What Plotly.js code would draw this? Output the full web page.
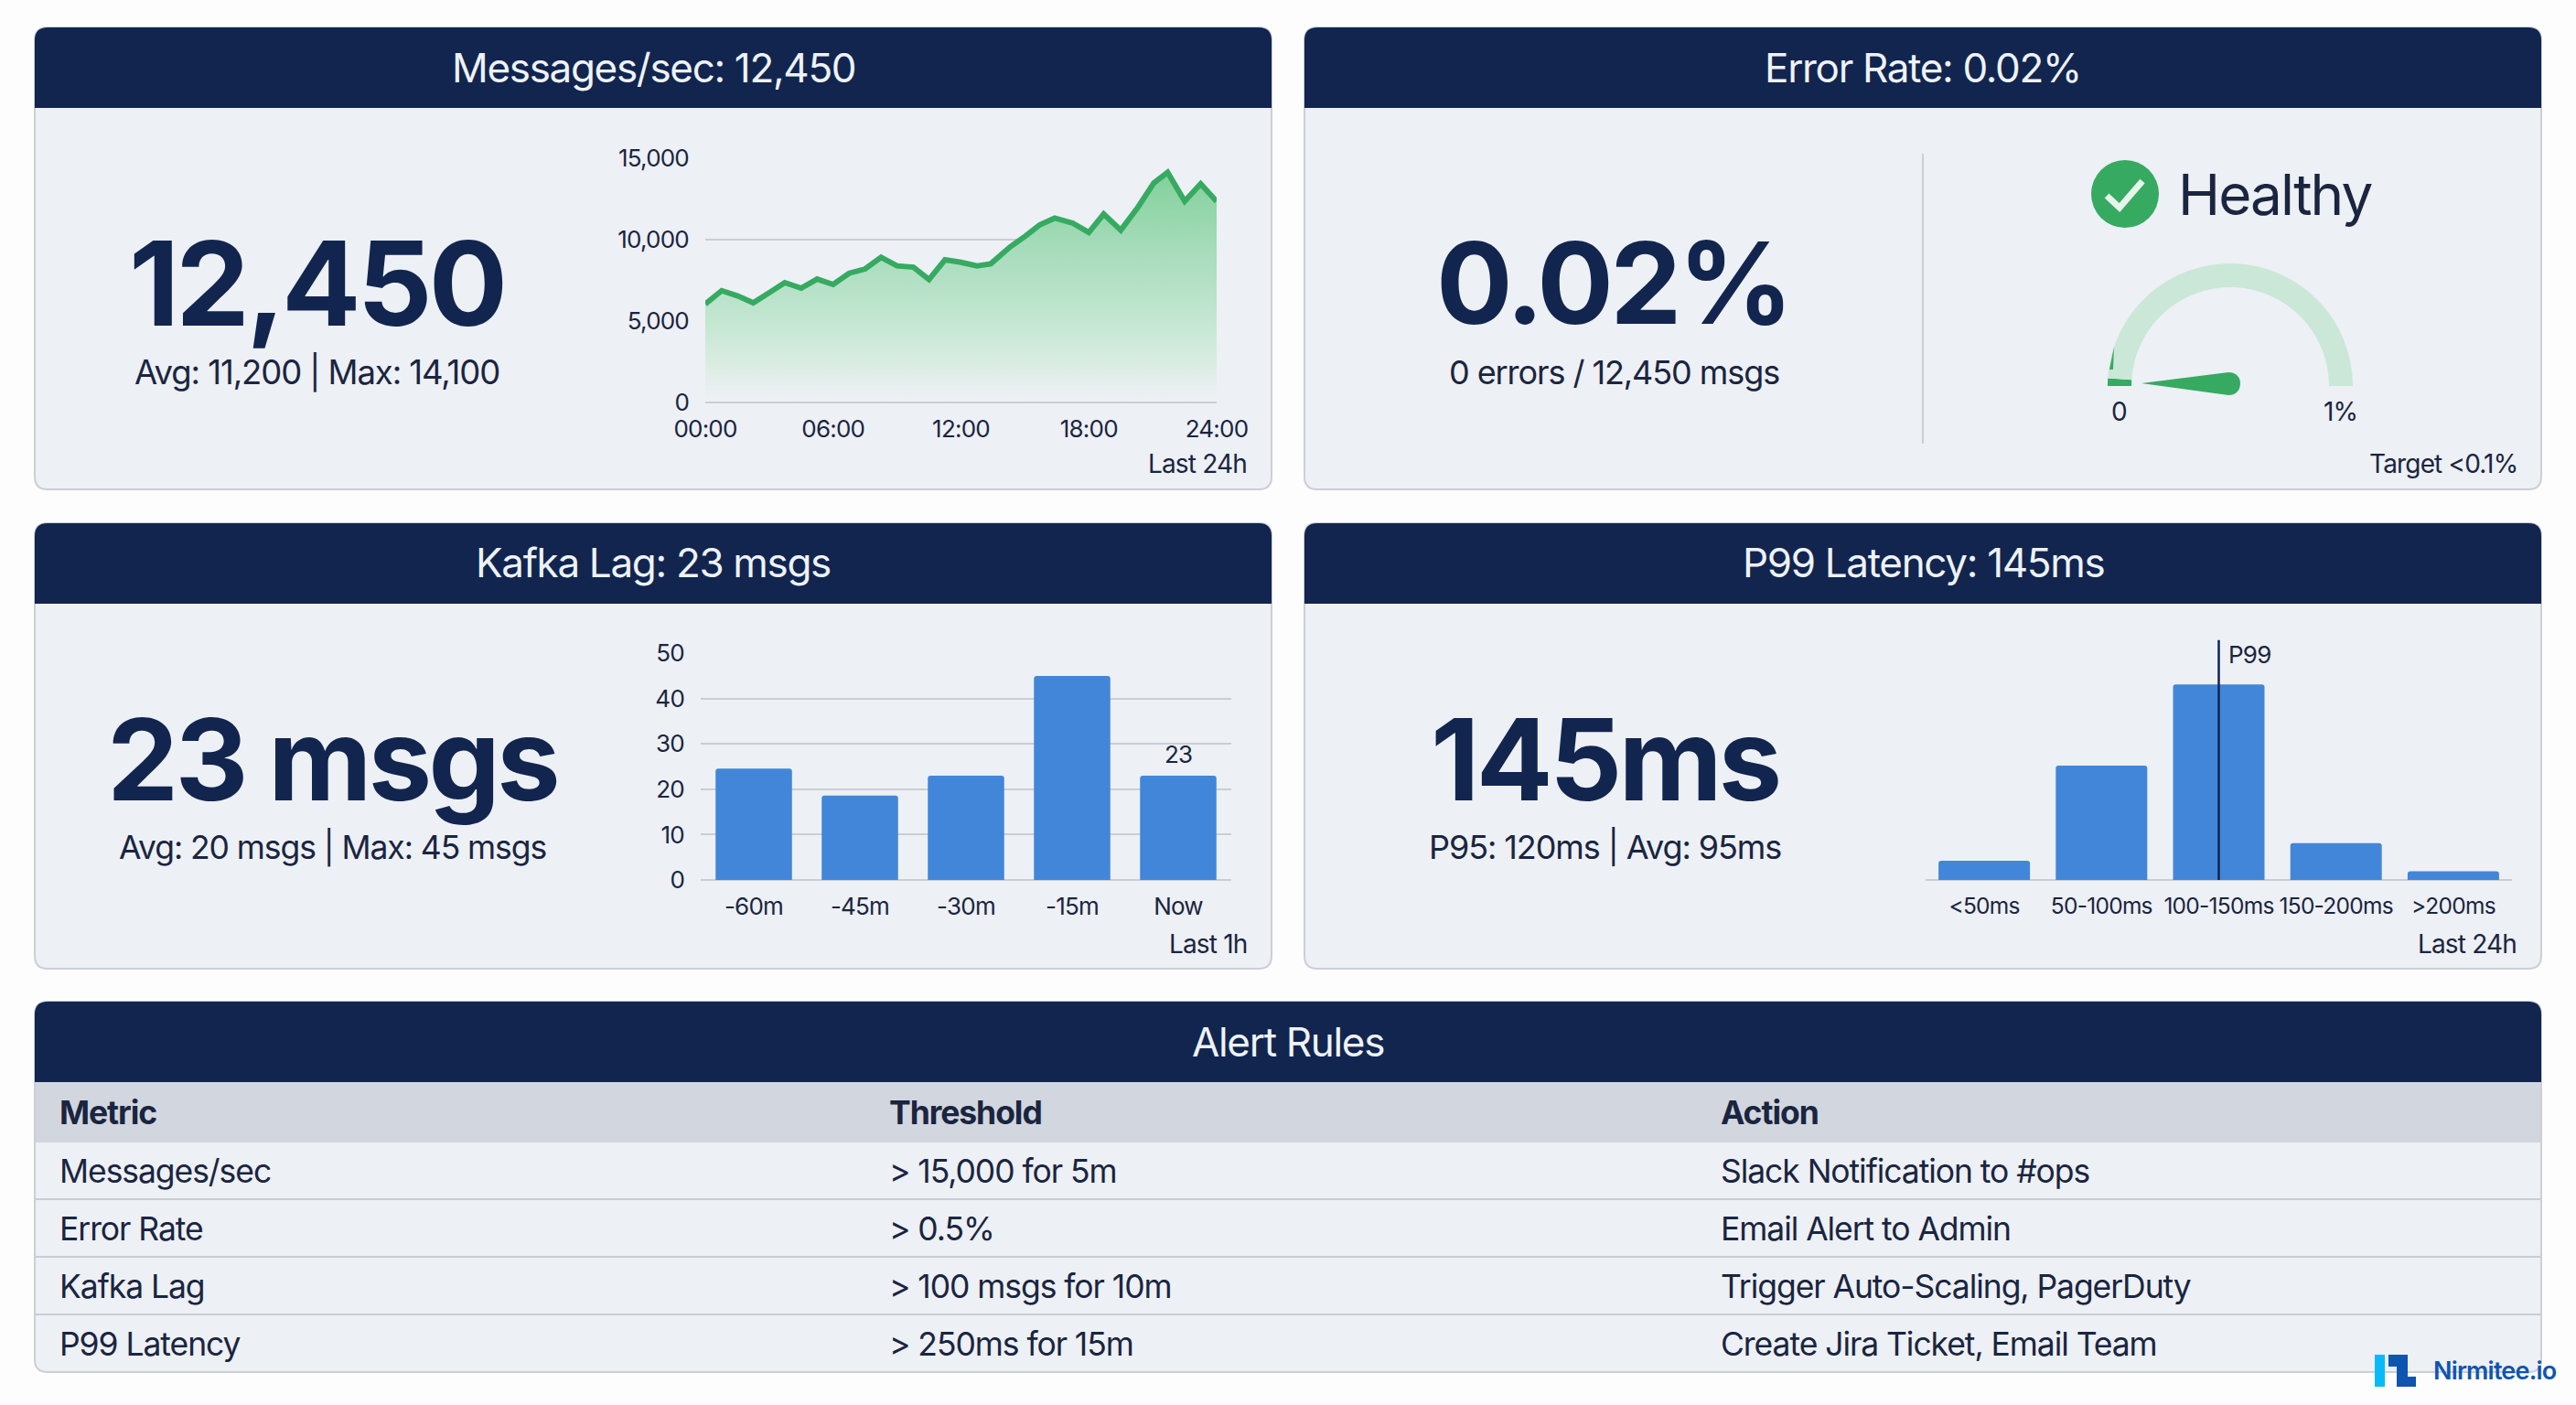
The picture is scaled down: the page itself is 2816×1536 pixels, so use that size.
<!DOCTYPE html>
<html><head><meta charset="utf-8">
<script src="https://cdn.plot.ly/plotly-3.0.1.min.js"></script>
<style>html,body{margin:0;padding:0;background:#fff}#c{width:2816px;height:1536px}svg text{letter-spacing:-0.03em}</style>
</head><body><div id="c"></div><script>
// ---- data ----
const msgHours=[0,0.77,1.5,2.25,3,3.73,4.5,5.25,6,6.75,7.5,8.25,9,9.77,10.5,11.25,12,12.75,13.4,14.3,15.05,15.7,16.4,17.25,18,18.7,19.5,20.3,21.05,21.7,22.5,23.25,24];
const msgValues=[6040,6860,6545,6115,6730,7350,7010,7570,7240,7930,8190,8900,8380,8300,7540,8750,8600,8380,8510,9540,10230,10900,11310,11000,10430,11560,10570,11970,13460,14120,12340,13410,12340];
const msgTickVals=[0,6,12,18,24];
const msgTickText=['00:00','06:00','12:00','18:00','24:00'];
const lagLabels=['-60m','-45m','-30m','-15m','Now'];
const lagValues=[24.6,18.6,23,45,23];
const latLabels=['<50ms','50-100ms','100-150ms','150-200ms','>200ms'];
const latValues=[5.1,30.4,52,9.8,2.3];
const gaugeValue=0.02, gaugeMax=1;
const tableHead=['Metric','Threshold','Action'];
const tableMetric=['Messages/sec','Error Rate','Kafka Lag','P99 Latency'];
const tableThreshold=['> 15,000 for 5m','> 0.5%','> 100 msgs for 10m','> 250ms for 15m'];
const tableAction=['Slack Notification to #ops','Email Alert to Admin','Trigger Auto-Scaling, PagerDuty','Create Jira Ticket, Email Team'];

// ---- helpers ----
const W=2816,H=1536,F='Inter, "Noto Sans", sans-serif';
const NAVY='#11254F',INK='#1A2540',PANEL='#EDF0F5',EDGE='#CBCFD5',GRID='#CACDD3',GREEN='#36AA61',BLUE='#4286D9';
const X=p=>p/W, Y=p=>1-p/H;
const P=(x,y)=>X(x).toFixed(5)+','+Y(y).toFixed(5);
function rpath(x0,y0,x1,y1,rt,rb){
  return 'M'+P(x0+rt,y0)+' L'+P(x1-rt,y0)+' Q'+P(x1,y0)+' '+P(x1,y0+rt)+' L'+P(x1,y1-rb)+' Q'+P(x1,y1)+' '+P(x1-rb,y1)+
   ' L'+P(x0+rb,y1)+' Q'+P(x0,y1)+' '+P(x0,y1-rb)+' L'+P(x0,y0+rt)+' Q'+P(x0,y0)+' '+P(x0+rt,y0)+' Z';
}
const shapes=[];
const pshape=(path,fill,line,lw,layer)=>shapes.push({type:'path',xref:'paper',yref:'paper',path,fillcolor:fill,line:{color:line||'rgba(0,0,0,0)',width:lw||0},layer:layer||'below'});
const rect=(x0,y0,x1,y1,fill)=>shapes.push({type:'rect',xref:'paper',yref:'paper',x0:X(x0),x1:X(x1),y0:Y(y0),y1:Y(y1),fillcolor:fill,line:{width:0},layer:'below'});
const hline=(x0,x1,y,c,w)=>shapes.push({type:'line',xref:'paper',yref:'paper',x0:X(x0),x1:X(x1),y0:Y(y),y1:Y(y),line:{color:c,width:w},layer:'below'});
const anns=[];
const txt=(text,x,y,size,o)=>anns.push(Object.assign({text,x:X(x),y:Y(y),xref:'paper',yref:'paper',showarrow:false,xanchor:'center',yanchor:'middle',borderpad:0,font:{family:F,size,color:INK}},o||{}));
const big=(t,x,y,s)=>txt(t,x,y,s,{font:{family:F,size:s,color:NAVY,weight:700}});
const rtxt=(t,x,y,s)=>txt(t,x,y,s,{xanchor:'right'});

function panel(x0,y0,x1,y1,title){
  pshape(rpath(x0,y0,x1,y1,14,14),PANEL,EDGE,2);
  pshape(rpath(x0,y0,x1,y0+88,14,0),NAVY);
  txt(title,(x0+x1)/2,y0+43.5,44,{font:{family:F,size:44,color:'#EEF2F7'}});
}
panel(38,30,1390,535,'Messages/sec: 12,450');
panel(1426,30,2778,535,'Error Rate: 0.02%');
panel(38,572,1390,1059,'Kafka Lag: 23 msgs');
panel(1426,572,2778,1059,'P99 Latency: 145ms');
panel(38,1095,2778,1500,'Alert Rules');

// table
rect(39,1183,2777,1249,'#D2D6DE');
[1311,1374,1437].forEach(y=>hline(39,2777,y,'#C9CDD3',2));
const colX=[64,971,1880], rowY=[1280,1343,1406,1469], TS=35.5;
tableHead.forEach((t,i)=>txt(t,colX[i],1216,TS,{xanchor:'left',font:{family:F,size:TS,color:INK,weight:700}}));
[tableMetric,tableThreshold,tableAction].forEach((col,i)=>col.forEach((t,j)=>txt(t.replace('>','&gt;'),colX[i],rowY[j],TS,{xanchor:'left'})));

// big numbers
big('12,450',346,309,128); txt('Avg: 11,200 | Max: 14,100',346,407,36.5);
big('0.02%',1763,309,124); txt('0 errors / 12,450 msgs',1764,407,36);
big('23 msgs',363,830,124); txt('Avg: 20 msgs | Max: 45 msgs',363,926,35.5);
big('145ms',1755,830,124); txt('P95: 120ms | Avg: 95ms',1755,926,36);

// captions
rtxt('Last 24h',1364,507,28); rtxt('Target <0.1%',2753,507,28);
rtxt('Last 1h',1364,1032,28); rtxt('Last 24h',2752,1032,28);

// health block
shapes.push({type:'line',xref:'paper',yref:'paper',x0:X(2102),x1:X(2102),y0:Y(168),y1:Y(485),line:{color:EDGE,width:2},layer:'below'});
shapes.push({type:'circle',xref:'paper',yref:'paper',x0:X(2286),x1:X(2360),y0:Y(175),y1:Y(249),fillcolor:GREEN,line:{width:0},layer:'below'});
pshape('M'+P(2303,214)+' L'+P(2317,227)+' L'+P(2342,198),'rgba(0,0,0,0)','#E6F4EA',7);
txt('Healthy',2380,212,62,{xanchor:'left'});
txt('0',2316,450,28); txt('1%',2558,450,28);
// needle and small mark on the dial
pshape('M'+P(2341,419)+' L'+P(2436,407)+' C'+P(2445,407)+' '+P(2449,413)+' '+P(2449,419)+' C'+P(2449,426)+' '+P(2445,432)+' '+P(2436,432)+' Z',GREEN);
pshape('M'+P(2311,379)+' L'+P(2306,404)+' L'+P(2310,404)+' Z',GREEN,null,0,'above');

// kafka value label
anns.push({text:'23',x:'Now',y:23,xref:'x2',yref:'y2',yanchor:'bottom',showarrow:false,yshift:6,font:{family:F,size:26,color:INK}});
// P99 label
anns.push({text:'P99',x:2,y:63.8,xref:'x3',yref:'y3',xanchor:'left',yanchor:'top',xshift:8,yshift:2,showarrow:false,font:{family:F,size:26,color:INK}});

// logo
shapes.push({type:'rect',xref:'paper',yref:'paper',x0:X(2596),x1:X(2607),y0:Y(1481),y1:Y(1516),fillcolor:'#07BBF8',line:{width:0},layer:'above'});
pshape('M'+P(2611,1481)+' L'+P(2632,1481)+' L'+P(2632,1505)+' L'+P(2641,1505)+' L'+P(2641,1516)+' L'+P(2620,1516)+' L'+P(2620,1494)+' L'+P(2611,1494)+' Z','#0F55B0',null,0,'above');
txt('Nirmitee.io',2659,1498,27,{xanchor:'left',font:{family:F,size:27,color:'#0F55B0',weight:600}});

const axTick={family:F,size:26,color:INK};
const traces=[
 {type:'scatter',mode:'lines',x:msgHours,y:msgValues,xaxis:'x',yaxis:'y',cliponaxis:false,hoverinfo:'skip',
  line:{color:GREEN,width:6},fill:'tozeroy',fillcolor:'rgba(130,208,155,0.9)',
  fillgradient:{type:'vertical',colorscale:[[0,'rgba(237,240,245,0)'],[0.05,'rgba(234,239,241,1)'],[0.15,'rgba(220,237,228,1)'],[0.33,'rgba(198,231,212,1)'],[0.65,'rgba(168,220,188,1)'],[1,'rgba(130,208,155,1)']]}},
 {type:'bar',x:lagLabels,y:lagValues,xaxis:'x2',yaxis:'y2',width:0.72,hoverinfo:'skip',marker:{color:BLUE,cornerradius:3,line:{width:0}}},
 {type:'bar',x:latLabels,y:latValues,xaxis:'x3',yaxis:'y3',width:0.78,hoverinfo:'skip',marker:{color:BLUE,cornerradius:3,line:{width:0}}},
 {type:'scatter',mode:'lines',x:[latLabels[2],latLabels[2]],y:[0,63.8],xaxis:'x3',yaxis:'y3',cliponaxis:false,hoverinfo:'skip',line:{color:NAVY,width:2.5}},
 {type:'pie',values:[gaugeValue,gaugeMax-gaugeValue,gaugeMax],sort:false,direction:'clockwise',rotation:270,hole:0.806,
  domain:{x:[X(2304),X(2572)],y:[Y(556),Y(288)]},textinfo:'none',hoverinfo:'skip',showlegend:false,
  marker:{colors:[GREEN,'#CBE7D7','rgba(0,0,0,0)'],line:{width:0}}}
];
const layout={width:W,height:H,margin:{l:0,r:0,t:0,b:0},paper_bgcolor:'#FDFDFE',plot_bgcolor:'rgba(0,0,0,0)',showlegend:false,shapes,annotations:anns,font:{family:F},
 xaxis:{domain:[X(771),X(1330)],range:[0,24],tickvals:msgTickVals,ticktext:msgTickText,showgrid:false,zeroline:false,ticks:'',ticklabelstandoff:11,tickfont:axTick,anchor:'y'},
 yaxis:{domain:[Y(440),Y(172.7)],range:[0,15000],tickvals:[0,5000,10000,15000],tickformat:',',showgrid:true,gridcolor:GRID,gridwidth:2,zeroline:true,zerolinecolor:GRID,zerolinewidth:2,ticks:'',ticklabelstandoff:17,tickfont:axTick,anchor:'x'},
 xaxis2:{domain:[X(766),X(1346)],range:[-0.5,4.5],type:'category',categoryorder:'array',categoryarray:lagLabels,showgrid:false,zeroline:false,ticks:'',ticklabelstandoff:11,tickfont:axTick,anchor:'y2'},
 yaxis2:{domain:[Y(962),Y(714.3)],range:[0,50],tickvals:[0,10,20,30,40,50],showgrid:true,gridcolor:GRID,gridwidth:2,zeroline:true,zerolinecolor:GRID,zerolinewidth:2,ticks:'',ticklabelstandoff:17,tickfont:axTick,anchor:'x2'},
 xaxis3:{domain:[X(2105),X(2746)],range:[-0.5,4.5],type:'category',categoryorder:'array',categoryarray:latLabels,showgrid:false,zeroline:false,ticks:'',ticklabelstandoff:11,tickangle:0,tickfont:{family:F,size:24.5,color:INK},anchor:'y3'},
 yaxis3:{domain:[Y(962),Y(674.3)],range:[0,70],showgrid:false,showticklabels:false,zeroline:true,zerolinecolor:GRID,zerolinewidth:2,ticks:'',anchor:'x3'}
};
Plotly.newPlot('c',traces,layout,{displayModeBar:false,responsive:false});
</script></body></html>
